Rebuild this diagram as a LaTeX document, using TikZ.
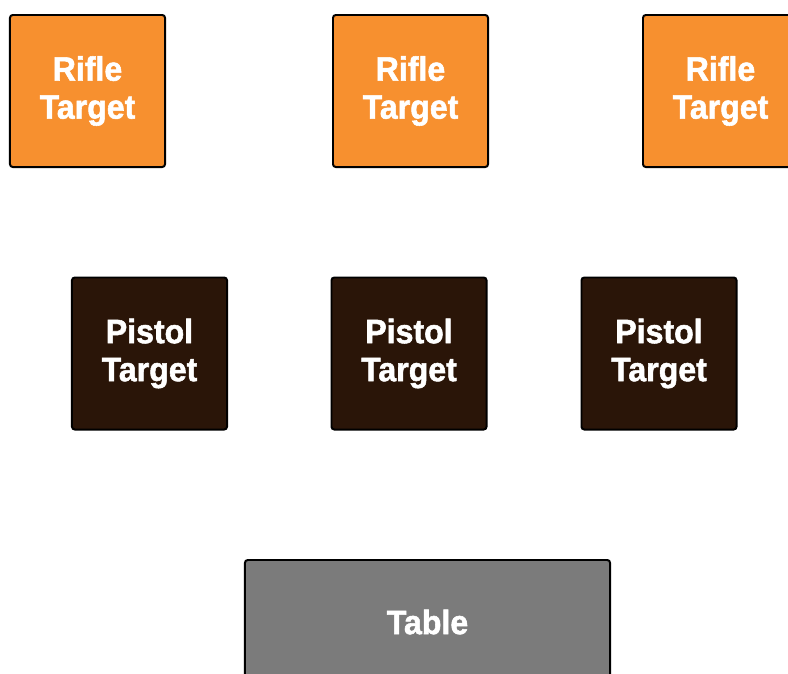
\documentclass[tikz,border=0pt]{standalone}
\usepackage{fontspec}
\setmainfont{Liberation Sans}
\newfontfamily\tagfont{Liberation Sans}[FakeBold=1.6, FakeStretch=0.95]

\begin{document}
\begin{tikzpicture}[x=0.025cm, y=-0.025cm,
    target/.style={draw=borderColour, line width=1.4pt, rounded corners=2pt,
                   minimum width=3.875cm, minimum height=3.8cm, inner sep=0pt,
                   text=white, font=\tagfont\bfseries\fontsize{24}{27}\selectfont, align=center},
    rifle/.style={target, fill=fillColourRifle},
    pistol/.style={target, fill=fillColourPistol}]
    \definecolor{borderColour}{HTML}{000000}
    \definecolor{fillColourRifle}{HTML}{F7902F}
    \definecolor{fillColourPistol}{HTML}{2A1508}
    \definecolor{fillColourTable}{HTML}{7B7B7B}

    % Page
    \useasboundingbox (0,0) rectangle (788,673);
    \clip (0,0) rectangle (788,673);

    % Rifle targets
    \node[rifle] (rifle1) at (87.5,91) {Rifle\\Target};
    \node[rifle] (rifle2) at (410.5,91) {Rifle\\Target};
    \node[rifle] (rifle3) at (720.5,91) {Rifle\\Target};

    % Pistol targets
    \node[pistol] (pistol1) at (149.5,353.5) {Pistol\\Target};
    \node[pistol] (pistol2) at (409,353.5) {Pistol\\Target};
    \node[pistol] (pistol3) at (659,353.5) {Pistol\\Target};

    % Table
    \node[target, fill=fillColourTable, minimum width=9.125cm, minimum height=3.1cm] (table) at (427.5,622) {Table};

\end{tikzpicture}
\end{document}
